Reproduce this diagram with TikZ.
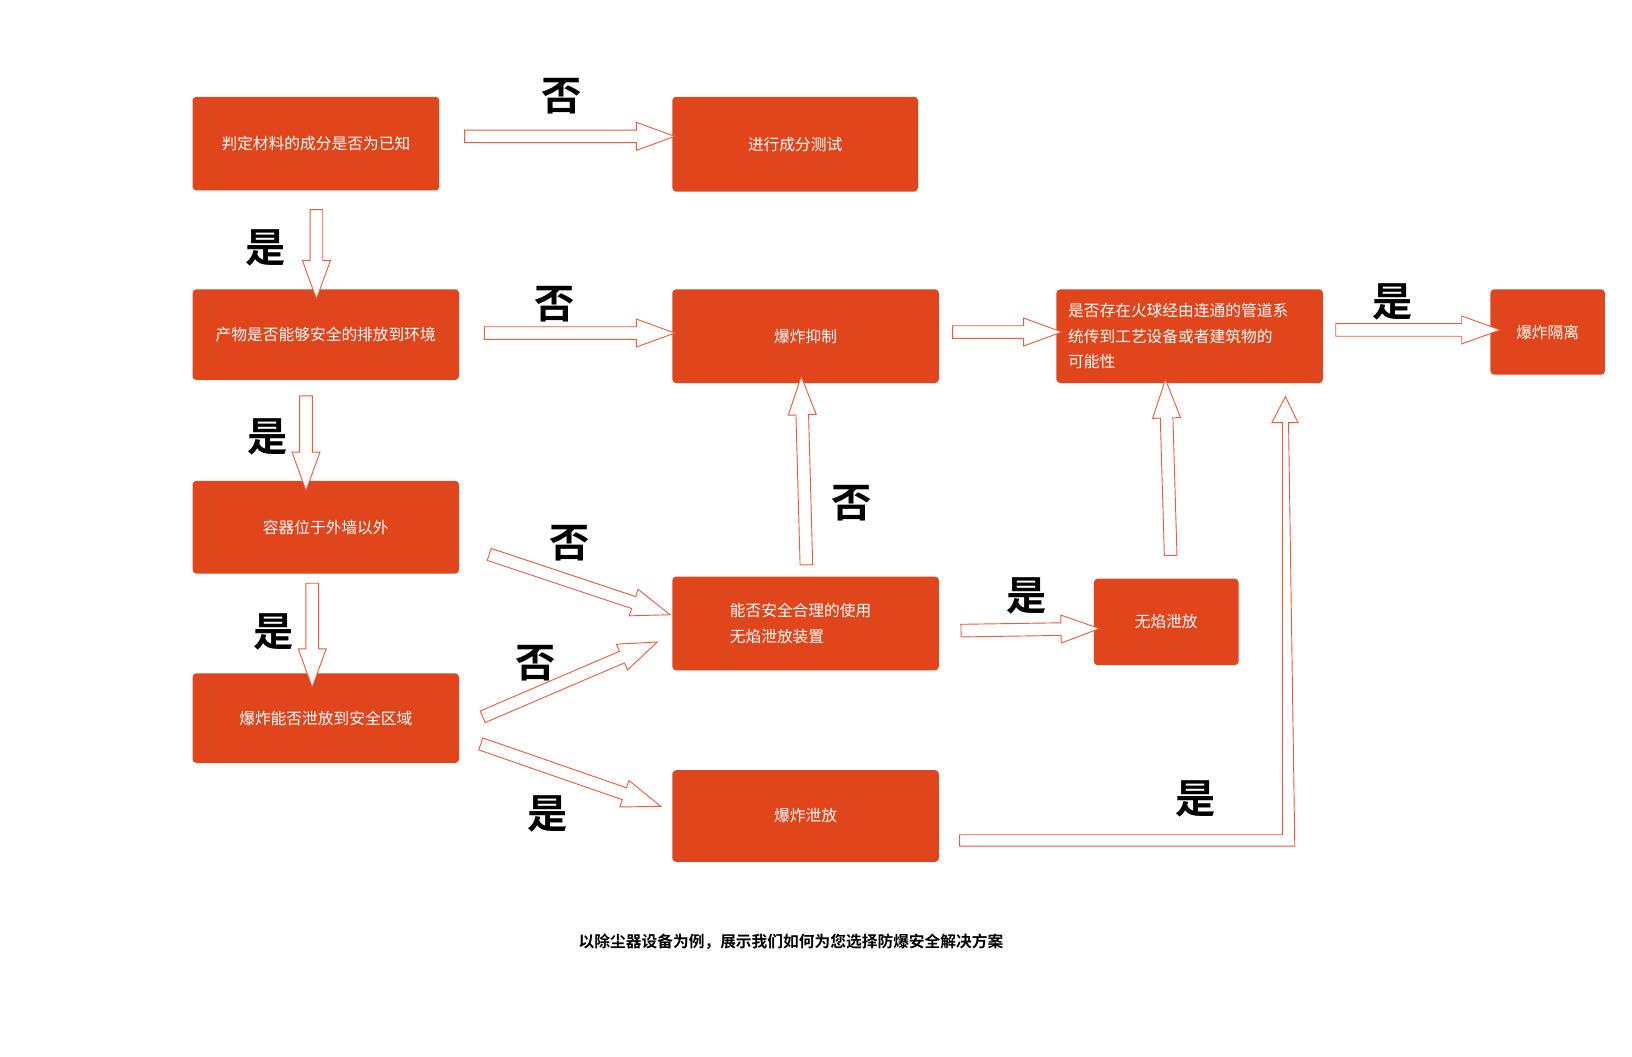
\documentclass[tikz,border=0pt]{standalone}
\usepackage{fontspec}
\setmainfont{Noto Sans CJK SC}
\newfontfamily\cjkb{Noto Sans CJK SC Bold}
\usetikzlibrary{shapes.arrows,calc}
\definecolor{boxc}{HTML}{E0451C}
\definecolor{arrc}{HTML}{EE5A3A}
\tikzset{x=0.02cm,y=-0.02cm,
 bx/.style={fill=boxc,draw=boxc!90!black,rounded corners=2pt,text=white,font=\fontsize{8.6}{14}\selectfont,inner sep=0pt},
 harr/.style={single arrow,draw=arrc,fill=white,line width=0.5pt,inner xsep=0pt,inner ysep=3.2pt,single arrow head extend=4.2pt,single arrow tip angle=40,minimum width=0pt,outer sep=0pt},
 lab/.style={font=\cjkb\fontsize{22}{22}\selectfont,text=black}}
\newcommand\harrow[2]{\path let \p1=($(#2)-(#1)$), \n1={atan2(\y1,\x1)}, \n2={veclen(\x1,\y1)} in node[harr,minimum height=\n2,rotate=\n1] at ($(#1)!0.5!(#2)$) {};}
\newcommand\bxn[6]{\fill[boxc,rounded corners=2pt] (#2,#4) rectangle (#3,#5); \node[text=white,font=\fontsize{8.6}{14}\selectfont,align=left] (#1) at ({(#2+#3)/2},{(#4+#5)/2}) {#6};}
\begin{document}
\begin{tikzpicture}
\useasboundingbox (0,0) rectangle (1568,1015);
\fill[white] (0,0) rectangle (1568,1015);
\bxn{A}{185}{422}{93}{183}{判定材料的成分是否为已知}
\bxn{B}{646}{882}{93}{184}{进行成分测试}
\bxn{C}{185}{441}{278}{365}{产物是否能够安全的排放到环境}
\bxn{D}{646}{902}{278}{368}{爆炸抑制}
\fill[boxc,rounded corners=2pt] (1015,278) rectangle (1271,368);
\node[text=white,font=\fontsize{8.6}{14}\selectfont,align=left,anchor=west] (E) at (1020,323) {是否存在火球经由连通的管道系\\统传到工艺设备或者建筑物的\\可能性};
\bxn{F}{1432}{1542}{278}{360}{爆炸隔离}
\bxn{G}{185}{441}{462}{551}{容器位于外墙以外}
\fill[boxc,rounded corners=2pt] (646,554) rectangle (902,644);
\node[text=white,font=\fontsize{8.6}{14}\selectfont,align=left,anchor=west] (H) at (695,599) {能否安全合理的使用\\无焰泄放装置};
\bxn{I}{1051}{1190}{556}{639}{无焰泄放}
\bxn{J}{185}{441}{647}{733}{爆炸能否泄放到安全区域}
\bxn{K}{646}{902}{740}{828}{爆炸泄放}
\harrow{438,131}{640,131}
\harrow{304,193}{304,279}
\harrow{457,320}{640,320}
\harrow{294,372}{294,463}
\harrow{300,552}{300,652}
\harrow{462,530}{636,588}
\harrow{456,692}{624,620}
\harrow{454,712}{627,772}
\harrow{907,319}{1012,319}
\harrow{1275,317}{1433,317}
\harrow{775,551}{770,370}
\harrow{915,606}{1048,604}
\harrow{1125,542}{1120,373}
\draw[arrc,fill=white,line width=0.5pt] (922,802) -- (1232,802) -- (1232,406) -- (1222,406) -- (1235,381) -- (1247,406) -- (1238,406) -- (1244,813) -- (922,813) -- cycle;
\node[lab] at (540,92) {否};
\node[lab] at (255,238) {是};
\node[lab] at (533,292) {否};
\node[lab] at (257,420) {是};
\node[lab] at (263,607) {是};
\node[lab] at (547,522) {否};
\node[lab] at (515,637) {否};
\node[lab] at (526,782) {是};
\node[lab] at (1338,290) {是};
\node[lab] at (818,483) {否};
\node[lab] at (986,573) {是};
\node[lab] at (1149,768) {是};
\node[font=\cjkb\fontsize{8.6}{10}\selectfont] (cap) at (760,905) {以除尘器设备为例，展示我们如何为您选择防爆安全解决方案};
\end{tikzpicture}
\end{document}
